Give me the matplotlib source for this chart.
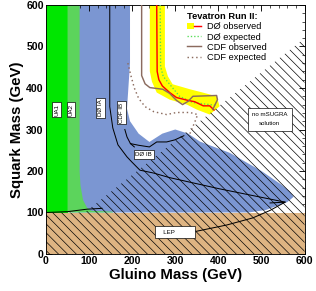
import numpy as np
import matplotlib
matplotlib.use('Agg')
import matplotlib.pyplot as plt
from matplotlib.patches import Patch
from matplotlib.lines import Line2D
from matplotlib.legend_handler import HandlerTuple

plt.rcParams['font.family'] = ['Liberation Sans', 'DejaVu Sans']
plt.rcParams['hatch.linewidth'] = 0.6

# excluded regions (gluino mass, squark mass) in GeV
ua1_x = [0, 50, 50, 0]
ua1_y = [100, 100, 600, 600]
ua2_x = [50, 78, 78, 80, 86, 95, 105, 155, 155, 50]
ua2_y = [600, 600, 200, 165, 130, 112, 104, 102, 100, 100]
run1_x = [60, 195, 195, 188, 195, 215, 240, 270, 300, 330, 357, 426, 500, 545, 565, 575,
          560, 510, 470, 60]
run1_y = [600, 600, 460, 350, 320, 290, 270, 290, 300, 290, 271, 244, 200, 168, 152, 138,
          125, 106, 100, 100]
lep_x = [0, 600, 600, 0]
lep_y = [0, 0, 100, 100]
nosol_x = [0, 600, 600, 90, 0]
nosol_y = [0, 0, 520, 100, 100]

# Tevatron Run II limits
band_lo_x = [241, 241, 246, 257, 287, 327, 350, 380]
band_lo_y = [600, 440, 415, 389, 372, 360, 348, 336]
band_hi_x = [276, 276, 283, 294, 334, 364, 396, 403]
band_hi_y = [600, 452, 428, 409, 397, 389, 380, 356]
d0_obs_x = [257, 258, 262, 270, 287, 303, 330, 345, 365, 380, 390]
d0_obs_y = [600, 440, 420, 405, 389, 377, 370, 367, 357, 357, 347]
d0_exp_x = [265, 266, 272, 287, 310, 341, 380, 395]
d0_exp_y = [600, 452, 428, 409, 380, 365, 360, 358]
cdf_obs_x = [222, 222, 230, 241, 271, 287, 303, 317, 330, 341, 396, 398, 387]
cdf_obs_y = [600, 430, 410, 401, 397, 387, 370, 360, 368, 380, 382, 372, 348]
cdf_exp_x = [190, 197, 205, 215, 230, 250, 280, 303, 334, 352, 345, 334]
cdf_exp_y = [460, 430, 400, 375, 355, 343, 336, 341, 341, 336, 317, 290]

# Run I and LEP contours
d0_ia_x = [148, 148, 155, 167, 188, 199, 218, 250, 287, 403, 555]
d0_ia_y = [600, 355, 304, 263, 234, 222, 202, 195, 184, 157, 125]
cdf_ib_x = [183, 188, 196, 205]
cdf_ib_y = [300, 282, 266, 258]
d0_ib_x = [196, 215, 240, 257, 280, 299, 320]
d0_ib_y = [266, 262, 258, 270, 270, 275, 285]
lep_line_x = [341, 420, 480, 520, 555, 520]
lep_line_y = [53, 70, 87, 105, 125, 123]
low_x = [0, 50, 95, 130]
low_y = [100, 102, 108, 110]

fig = plt.figure(figsize=(316 / 80, 291 / 80), dpi=80)
ax = fig.add_axes([46 / 316, 1 - 254 / 291, 258.5 / 316, 249 / 291])

ax.fill(run1_x, run1_y, color='#7b96d2', lw=0, zorder=1)
ax.fill(ua1_x, ua1_y, color='#00e600', lw=0, zorder=2)
ax.fill(ua2_x, ua2_y, color='#5cd45c', lw=0, zorder=2)
ax.fill(lep_x, lep_y, color='#deb482', lw=0, zorder=2)

band_x = band_lo_x + band_hi_x[::-1]
band_y = band_lo_y + band_hi_y[::-1]
ax.fill(band_x, band_y, color='#ffff00', lw=0, zorder=2)

ax.fill(nosol_x, nosol_y, facecolor='none', edgecolor='black', hatch='\\\\\\', lw=0, zorder=3)

ax.plot(d0_exp_x, d0_exp_y, color='#55dd55', ls=(0, (1, 1.5)), lw=1.2, zorder=4)
ax.plot(d0_obs_x, d0_obs_y, color='#ff0000', lw=1.3, zorder=4)
ax.plot(cdf_obs_x, cdf_obs_y, color='#8b6b5e', lw=1.3, zorder=4)
ax.plot(cdf_exp_x, cdf_exp_y, color='#8b6b5e', ls=(0, (1, 2)), lw=1.3, zorder=4)

for xs, ys in [(d0_ia_x, d0_ia_y), (cdf_ib_x, cdf_ib_y), (d0_ib_x, d0_ib_y),
               (lep_line_x, lep_line_y), (low_x, low_y)]:
    ax.plot(xs, ys, color='black', lw=0.9, zorder=4)

box = dict(boxstyle='square,pad=0.3', fc='white', ec='black', lw=0.6)
ax.text(25, 348, 'UA1', rotation=90, fontsize=5.5, ha='center', va='center', bbox=box, zorder=5)
ax.text(58, 348, 'UA2', rotation=90, fontsize=5.5, ha='center', va='center', bbox=box, zorder=5)
ax.text(127, 352, 'DØ IA', rotation=90, fontsize=5.5, ha='center', va='center', bbox=box, zorder=5)
ax.text(176, 341, 'CDF IB', rotation=90, fontsize=5.5, ha='center', va='center', bbox=box, zorder=5)
ax.text(227, 239, 'DØ IB', fontsize=5.5, ha='center', va='center', bbox=box, zorder=5)
ax.text(299, 53, '   LEP          ', fontsize=5.5, ha='center', va='center',
        bbox=dict(boxstyle='square,pad=0.5', fc='white', ec='black', lw=0.6), zorder=5)
ax.text(519, 325, 'no mSUGRA\n\nsolution', fontsize=5.5, ha='center', va='center', linespacing=0.9,
        bbox=dict(boxstyle='square,pad=0.7', fc='white', ec='black', lw=0.6), zorder=5)

handles = [(Patch(fc='#ffff00', ec='none'), Line2D([], [], color='#ff0000', lw=1.3)),
           Line2D([], [], color='#55dd55', ls=(0, (1, 1.5)), lw=1.2),
           Line2D([], [], color='#8b6b5e', lw=1.3),
           Line2D([], [], color='#8b6b5e', ls=(0, (1, 2)), lw=1.3)]
labels = ['DØ observed', 'DØ expected', 'CDF observed', 'CDF expected']
leg = ax.legend(handles, labels, handler_map={tuple: HandlerTuple(ndivide=None, pad=0)},
                loc='upper left', bbox_to_anchor=(0.515, 1.0), frameon=False,
                fontsize=8.3, title='Tevatron Run II:', title_fontproperties={'weight': 'bold', 'size': 8.3},
                handlelength=1.6, handletextpad=0.6, labelspacing=0.12, borderpad=0.3,
                alignment='left')
leg.set_zorder(6)

ax.set_xlim(0, 600)
ax.set_ylim(0, 600)
ax.set_xticks(np.arange(0, 601, 100))
ax.set_yticks(np.arange(0, 601, 100))
ax.set_xticks(np.arange(0, 601, 20), minor=True)
ax.set_yticks(np.arange(0, 601, 20), minor=True)
ax.tick_params(which='both', direction='in', top=True, right=True, labelsize=9.5, pad=2)
ax.tick_params(which='major', length=5, width=0.8)
ax.tick_params(which='minor', length=2.5, width=0.6)
for lab in ax.get_xticklabels() + ax.get_yticklabels():
    lab.set_fontweight('bold')
ax.set_xlabel('Gluino Mass (GeV)', fontsize=13.5, fontweight='bold', labelpad=2)
ax.set_ylabel('Squark Mass (GeV)', fontsize=13.5, fontweight='bold', labelpad=2)

fig.savefig('out.png', dpi=80)
